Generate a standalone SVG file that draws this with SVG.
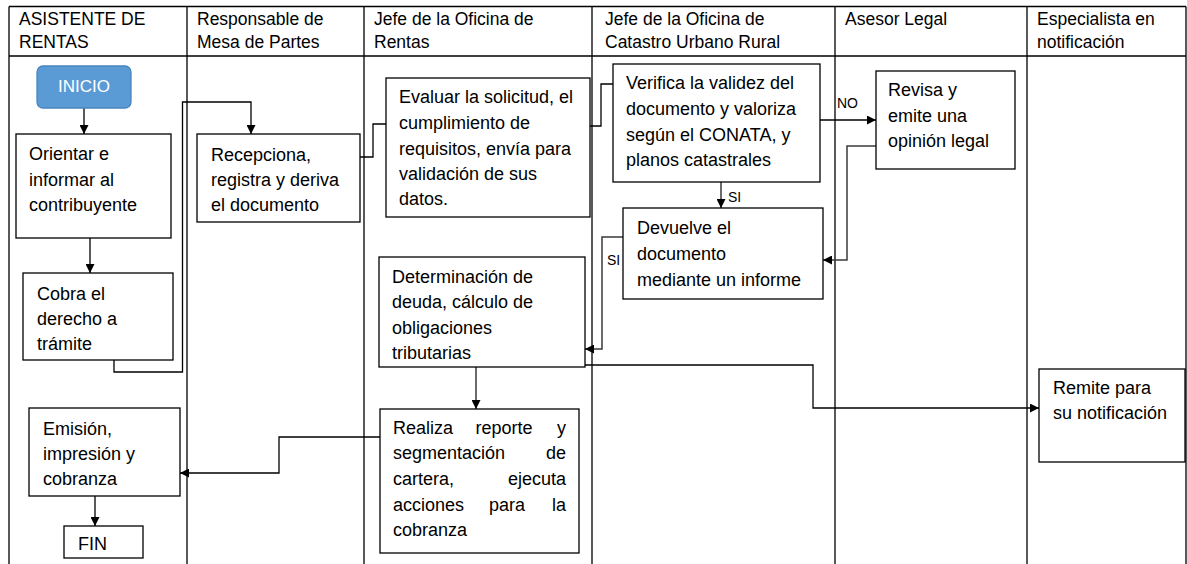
<svg xmlns="http://www.w3.org/2000/svg" width="1187" height="564" viewBox="0 0 1187 564">
<defs>
<style>
.ln{stroke:#000;stroke-width:1.3;fill:none}
.box{fill:#fff;stroke:#000;stroke-width:1.3}
.hd{font-family:"Liberation Sans",Arial,sans-serif;font-size:17.5px;fill:#000}
.tx{font-family:"Liberation Sans",Arial,sans-serif;font-size:18px;fill:#000}
.lb{font-family:"Liberation Sans",Arial,sans-serif;font-size:14px;fill:#000}
.cn{stroke:#000;stroke-width:1.3;fill:none}
.cg{stroke:#3a3a3a;stroke-width:1.5;fill:none}
</style>
<marker id="ah" viewBox="0 0 10 10" refX="10" refY="5" markerWidth="9" markerHeight="9" markerUnits="userSpaceOnUse" orient="auto">
<path d="M0,0 L10,5 L0,10 z" fill="#000"/>
</marker>
</defs>
<rect x="0" y="0" width="1187" height="564" fill="#fff"/>
<g id="lanes">
<path class="ln" d="M9,6.5 H1186 M9,56 H1186 M9,6.5 V564 M187,6.5 V564 M364,6.5 V564 M592,6.5 V564 M835,6.5 V564 M1027,6.5 V564 M1186,6.5 V564"/>
<text class="hd" x="19" y="25">ASISTENTE DE</text>
<text class="hd" x="19" y="48">RENTAS</text>
<text class="hd" x="197" y="25">Responsable de</text>
<text class="hd" x="197" y="48">Mesa de Partes</text>
<text class="hd" x="374" y="25">Jefe de la Oficina de</text>
<text class="hd" x="374" y="48">Rentas</text>
<text class="hd" x="605" y="25">Jefe de la Oficina de</text>
<text class="hd" x="605" y="48">Catastro Urbano Rural</text>
<text class="hd" x="845" y="25">Asesor Legal</text>
<text class="hd" x="1037" y="25">Especialista en</text>
<text class="hd" x="1037" y="48">notificación</text>
</g>
<g id="connectors">
<path class="cn" d="M84,108 V134" marker-end="url(#ah)"/>
<path class="cn" d="M90,238 V273" marker-end="url(#ah)"/>
<path class="cn" d="M114,360 V372 H182.5 V102 H251 V134" marker-end="url(#ah)"/>
<path class="cn" d="M360,157 H373 V124 H386"/>
<path class="cn" d="M590,126 H601 V84 H613"/>
<path class="cg" d="M721,182 V208" marker-end="url(#ah)"/>
<path class="cn" d="M820,120 H876" marker-end="url(#ah)"/>
<path class="cg" d="M876,146 H847 V260 H823" marker-end="url(#ah)"/>
<path class="cg" d="M623,237 H602 V349 H585" marker-end="url(#ah)"/>
<path class="cg" d="M476,367 V409" marker-end="url(#ah)"/>
<path class="cn" d="M585,365 H813 V408 H1039" marker-end="url(#ah)"/>
<path class="cn" d="M380,437 H279 V473 H180" marker-end="url(#ah)"/>
<path class="cn" d="M95,496 V526" marker-end="url(#ah)"/>
<text class="lb" x="728" y="202">SI</text>
<text class="lb" x="837" y="108">NO</text>
<text class="lb" x="607" y="265">SI</text>
</g>
<g id="inicio">
<rect x="37" y="66" width="94" height="42" rx="6" fill="#5B9BD5" stroke="#4A85BD" stroke-width="1.3"/>
<text class="tx" x="84" y="92" text-anchor="middle" style="fill:#fff;font-size:17px">INICIO</text>
</g>
<g id="orientar">
<rect class="box" x="16" y="134" width="155" height="104"/>
<text class="tx" x="29" y="160">Orientar e</text>
<text class="tx" x="29" y="186">informar al</text>
<text class="tx" x="29" y="211">contribuyente</text>
</g>
<g id="cobra">
<rect class="box" x="23" y="273" width="150" height="87"/>
<text class="tx" x="37" y="300">Cobra el</text>
<text class="tx" x="37" y="325">derecho a</text>
<text class="tx" x="37" y="350">trámite</text>
</g>
<g id="recepciona">
<rect class="box" x="197" y="134" width="163" height="88"/>
<text class="tx" x="211" y="161">Recepciona,</text>
<text class="tx" x="211" y="186">registra y deriva</text>
<text class="tx" x="211" y="211">el documento</text>
</g>
<g id="evaluar">
<rect class="box" x="386" y="78" width="204" height="139"/>
<text class="tx" x="399" y="103">Evaluar la solicitud, el</text>
<text class="tx" x="399" y="129">cumplimiento de</text>
<text class="tx" x="399" y="155">requisitos, envía para</text>
<text class="tx" x="399" y="180">validación de sus</text>
<text class="tx" x="399" y="205">datos.</text>
</g>
<g id="verifica">
<rect class="box" x="613" y="64" width="207" height="118"/>
<text class="tx" x="626" y="89">Verifica la validez del</text>
<text class="tx" x="626" y="115">documento y valoriza</text>
<text class="tx" x="626" y="141">según el CONATA, y</text>
<text class="tx" x="626" y="166">planos catastrales</text>
</g>
<g id="revisa">
<rect class="box" x="876" y="71" width="139" height="98"/>
<text class="tx" x="888" y="96">Revisa y</text>
<text class="tx" x="888" y="122">emite una</text>
<text class="tx" x="888" y="147">opinión legal</text>
</g>
<g id="devuelve">
<rect class="box" x="623" y="208" width="200" height="91"/>
<text class="tx" x="637" y="234">Devuelve el</text>
<text class="tx" x="637" y="260">documento</text>
<text class="tx" x="637" y="286">mediante un informe</text>
</g>
<g id="determinacion">
<rect class="box" x="379" y="257" width="206" height="110"/>
<text class="tx" x="392" y="283">Determinación de</text>
<text class="tx" x="392" y="308">deuda, cálculo de</text>
<text class="tx" x="392" y="334">obligaciones</text>
<text class="tx" x="392" y="359">tributarias</text>
</g>
<g id="realiza">
<rect class="box" x="380" y="409" width="199" height="144"/>
<text class="tx" x="393" y="434">Realiza</text>
<text class="tx" x="504" y="434" text-anchor="middle">reporte</text>
<text class="tx" x="566" y="434" text-anchor="end">y</text>
<text class="tx" x="393" y="459">segmentación</text>
<text class="tx" x="566" y="459" text-anchor="end">de</text>
<text class="tx" x="393" y="485">cartera,</text>
<text class="tx" x="566" y="485" text-anchor="end">ejecuta</text>
<text class="tx" x="393" y="511">acciones</text>
<text class="tx" x="507" y="511" text-anchor="middle">para</text>
<text class="tx" x="566" y="511" text-anchor="end">la</text>
<text class="tx" x="393" y="536">cobranza</text>
</g>
<g id="remite">
<rect class="box" x="1039" y="369" width="146" height="93"/>
<text class="tx" x="1053" y="394">Remite para</text>
<text class="tx" x="1053" y="419">su notificación</text>
</g>
<g id="emision">
<rect class="box" x="29" y="408" width="151" height="88"/>
<text class="tx" x="43" y="435">Emisión,</text>
<text class="tx" x="43" y="460">impresión y</text>
<text class="tx" x="43" y="485">cobranza</text>
</g>
<g id="fin">
<rect class="box" x="64" y="526" width="79" height="32"/>
<text class="tx" x="78" y="550">FIN</text>
</g>
</svg>
